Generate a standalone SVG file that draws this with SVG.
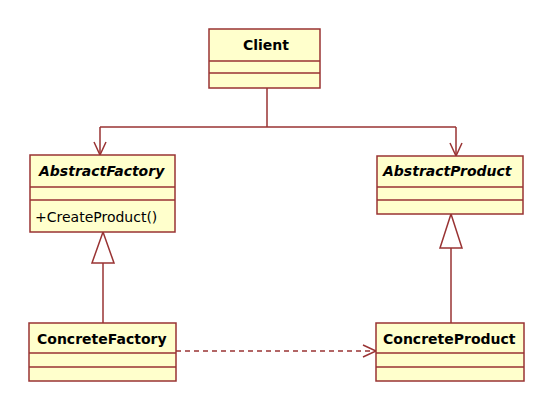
<svg xmlns="http://www.w3.org/2000/svg" width="554" height="411" viewBox="0 0 554 411">
<style>
.box{fill:#FFFFCC;stroke:#993333;stroke-width:1.5}
.ln{fill:none;stroke:#993333;stroke-width:1.5}
.tri{fill:#FFFFFF;stroke:#993333;stroke-width:1.5}
.nm{font-family:"DejaVu Sans",Verdana,sans-serif;font-size:14px;font-weight:bold;fill:#000}
.it{font-style:italic}
.op{font-family:"DejaVu Sans",Verdana,sans-serif;font-size:14px;fill:#000}
</style>
<rect width="554" height="411" fill="#FFFFFF"/>
<g id="connectors">
<path class="ln" d="M267,88 V127 M100,127 H456 M100,127 V155 M456,127 V156"/>
<path class="ln" d="M94,142 L100,155 L106,142 M450,143 L456,156 L462,143"/>
<path class="ln" d="M103,263 V323"/>
<polygon class="tri" points="103,232 92,263 114,263"/>
<path class="ln" d="M451,248 V323"/>
<polygon class="tri" points="451,214 440,248 462,248"/>
<path class="ln" d="M176,351 H375" stroke-dasharray="5,4"/>
<path class="ln" d="M363,345 L376,351 L363,357"/>
</g>
<g id="Client">
<rect class="box" x="209" y="29" width="111" height="59"/>
<path class="ln" d="M209,61 H320 M209,73 H320"/>
<text class="nm" x="266" y="50" text-anchor="middle">Client</text>
</g>
<g id="AbstractFactory">
<rect class="box" x="30" y="155" width="145" height="77"/>
<path class="ln" d="M30,187 H175 M30,200 H175"/>
<text class="nm it" x="39" y="176">AbstractFactory</text>
<text class="op" x="35" y="222">+CreateProduct()</text>
</g>
<g id="AbstractProduct">
<rect class="box" x="377" y="156" width="146" height="58"/>
<path class="ln" d="M377,187 H523 M377,200 H523"/>
<text class="nm it" x="383" y="176">AbstractProduct</text>
</g>
<g id="ConcreteFactory">
<rect class="box" x="29" y="323" width="147" height="58"/>
<path class="ln" d="M29,353 H176 M29,367 H176"/>
<text class="nm" x="37" y="344">ConcreteFactory</text>
</g>
<g id="ConcreteProduct">
<rect class="box" x="376" y="323" width="148" height="58"/>
<path class="ln" d="M376,353 H524 M376,367 H524"/>
<text class="nm" x="383" y="344">ConcreteProduct</text>
</g>
</svg>
